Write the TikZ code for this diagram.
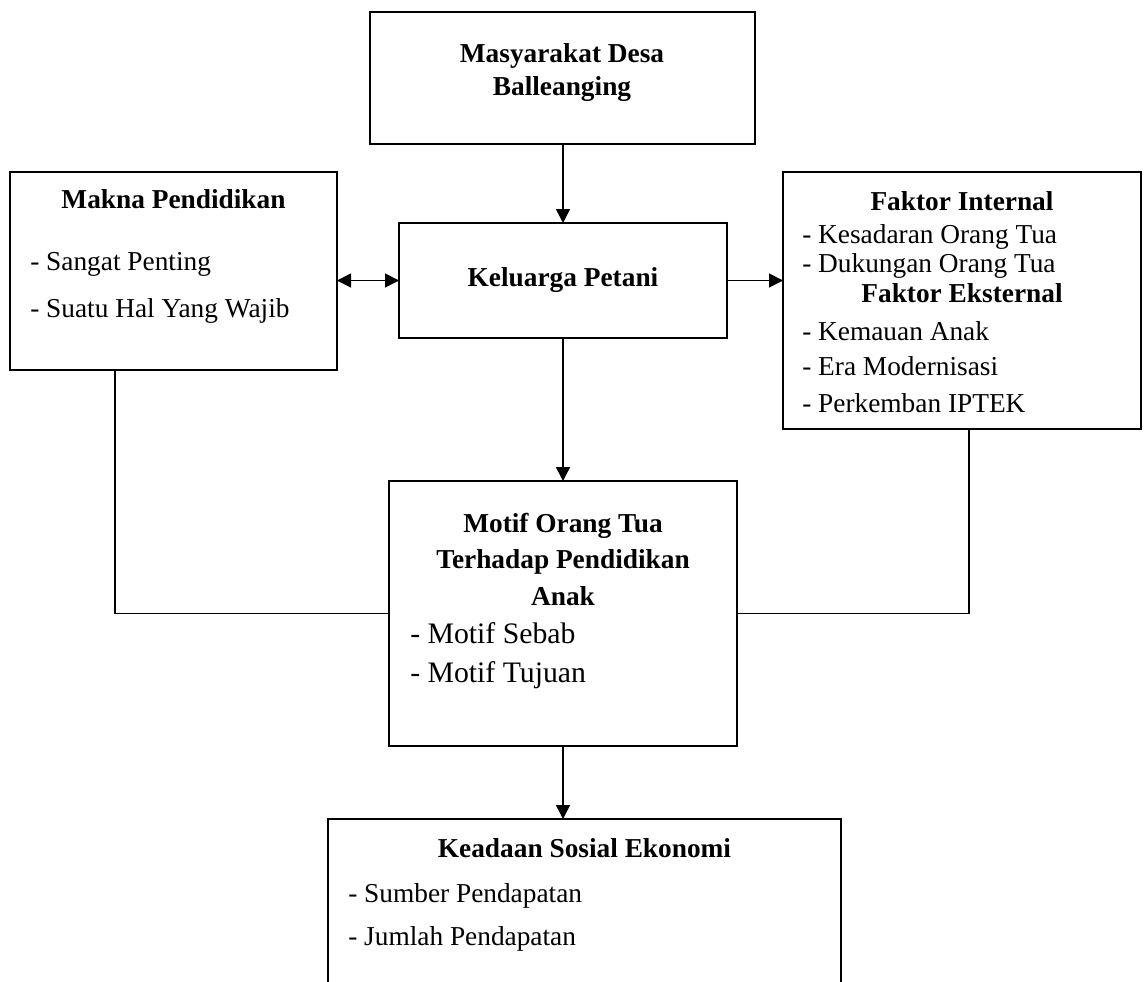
\documentclass[tikz,border=0pt]{standalone}
\usepackage{fontspec}
\setmainfont{Liberation Serif}
\usetikzlibrary{arrows.meta}
\begin{document}
\begin{tikzpicture}[x=0.75pt,y=-0.75pt,
  box/.style={draw, line width=1.3pt, inner sep=0pt, outer sep=0pt},
  arr/.style={line width=1.1pt, -{Triangle[length=10.5pt,width=10.5pt]}},
  dbl/.style={line width=1.1pt, {Triangle[length=10.5pt,width=10.5pt]}-{Triangle[length=10.5pt,width=10.5pt]}},
  conn/.style={line width=1.3pt},
  txt/.style={inner sep=0pt, font=\fontsize{20.5}{24}\selectfont},
  btxt/.style={txt, font=\fontsize{20.5}{24}\selectfont\bfseries},
  ltxt/.style={inner sep=0pt, font=\fontsize{22.3}{26}\selectfont}]
\useasboundingbox (0,0) rectangle (1148,981);
\clip (0,0) rectangle (1148,981);
% boxes
\node[box, minimum width=288.75pt, minimum height=99pt] (top) at (562.5,78) {};
\node[box, minimum width=246pt, minimum height=86.25pt, font=\fontsize{20.5}{24}\selectfont\bfseries] (kel) at (563,280.5) {Keluarga Petani};
\node[box, minimum width=245.25pt, minimum height=148.5pt] (makna) at (173.5,271) {};
\node[box, minimum width=268.5pt, minimum height=192.75pt] (faktor) at (962,300.5) {};
\node[box, minimum width=261pt, minimum height=198.75pt] (motif) at (563,613.5) {};
\node[box, minimum width=384.75pt, minimum height=150pt] (keadaan) at (584.5,919) {};
% texts: top
\node[btxt, anchor=base] (t1) at (562,63) {Masyarakat Desa};
\node[btxt, anchor=base] (t2) at (562,95) {Balleanging};
% makna
\node[btxt, anchor=base] (m1) at (173.5,208) {Makna Pendidikan};
\node[txt, anchor=base west] (m2) at (30,270) {- Sangat Penting};
\node[txt, anchor=base west] (m3) at (30,317) {- Suatu Hal Yang Wajib};
% faktor
\node[btxt, anchor=base] (f1) at (962,210) {Faktor Internal};
\node[txt, anchor=base west] (f2) at (802,243) {- Kesadaran Orang Tua};
\node[txt, anchor=base west] (f3) at (802,272) {- Dukungan Orang Tua};
\node[btxt, anchor=base] (f4) at (962,302) {Faktor Eksternal};
\node[txt, anchor=base west] (f5) at (802,340) {- Kemauan Anak};
\node[txt, anchor=base west] (f6) at (802,375) {- Era Modernisasi};
\node[txt, anchor=base west] (f7) at (802,412) {- Perkemban IPTEK};
% motif
\node[btxt, anchor=base] (o1) at (563,532) {Motif Orang Tua};
\node[btxt, anchor=base] (o2) at (563,568) {Terhadap Pendidikan};
\node[btxt, anchor=base] (o3) at (563,605) {Anak};
\node[ltxt, anchor=base west] (o4) at (410,643) {- Motif Sebab};
\node[ltxt, anchor=base west] (o5) at (410,682) {- Motif Tujuan};
% keadaan
\node[btxt, anchor=base] (k1) at (584.5,857) {Keadaan Sosial Ekonomi};
\node[txt, anchor=base west] (k2) at (348,902) {- Sumber Pendapatan};
\node[txt, anchor=base west] (k3) at (348,945) {- Jumlah Pendapatan};
% connectors
\draw[arr] (top.south -| kel.north) -- (kel.north);
\draw[arr] (kel.south) -- (motif.north);
\draw[arr] (motif.south) -- (motif.south |- keadaan.north);
\draw[dbl] (makna.east |- kel.west) -- (kel.west);
\draw[arr] (kel.east) -- (kel.east -| faktor.west);
\coordinate (mkb) at (115,370);
\coordinate (fkb) at (969,429);
\draw[conn] (mkb) |- (motif.west);
\draw[conn] (fkb) |- (motif.east);
\end{tikzpicture}
\end{document}
